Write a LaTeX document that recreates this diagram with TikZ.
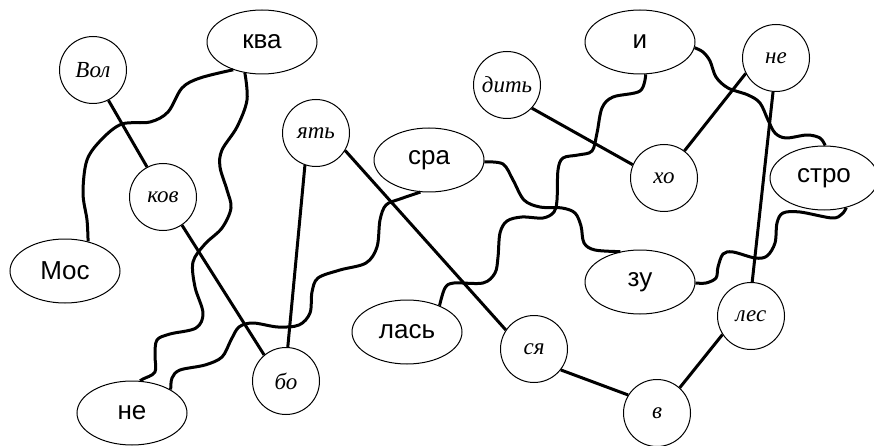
\documentclass[tikz,border=0pt]{standalone}
\usepackage{fontspec}
\setmainfont{Liberation Sans}
\newfontfamily\handfont{Liberation Serif}
\usetikzlibrary{shapes.geometric}

\begin{document}
\begin{tikzpicture}[
  x=1pt, y=-1pt,
  oval/.style={ellipse, draw, line width=1pt, inner sep=0pt,
    minimum width=110pt, minimum height=64pt,
    font=\fontsize{26}{26}\selectfont},
  ring/.style={circle, draw, line width=1pt, inner sep=0pt,
    minimum size=67pt, font=\handfont\itshape\fontsize{23}{23}\selectfont},
  link/.style={line width=3pt},
  wave/.style={line width=3pt, line join=round}
]
\useasboundingbox[fill=white] (0,0) rectangle (874,446);
\node[ring] (vol) at (93,70) {Вол};
\node[oval] (kva) at (262,42) {ква};
\node[ring] (kov) at (163,197) {ков};
\node[ring] (yat) at (316,133) {ять};
\node[oval] (mos) at (65,271) {Мос};
\node[oval] (ne) at (132,413) {не};
\node[ring] (bo) at (286,381) {бо};
\node[oval] (sra) at (429,160) {сра};
\node[ring] (dit) at (507,85) {дить};
\node[oval] (las) at (407,332) {лась};
\node[ring] (sya) at (534,349) {ся};
\node[oval] (i) at (640,42) {и};
\node[ring] (neh) at (776,58) {не};
\node[ring] (kho) at (664,178) {хо};
\node[oval, minimum width=108pt] (stro) at (824,178) {стро};
\node[oval] (zu) at (640,282) {зу};
\node[ring] (les) at (751,316) {лес};
\node[ring] (v) at (657,413) {в};

\draw[link] (vol.-63) -- (kov.118);
\draw[link] (kov.-56) -- (bo.130);
\draw[link] (yat.251) -- (bo.87);
\draw[link] (yat.-31) -- (sya.146);
\draw[link] (dit.-43) -- (kho.157);
\draw[link] (neh.207) -- (kho.53);
\draw[link] (neh.265) -- (les.88);
\draw[link] (sya.-38) -- (v.148);
\draw[link] (v.48) -- (les.213);

\draw[wave] plot[smooth, tension=0.55] coordinates {(kva.224) (200,78)
  (182,88) (168,112) (150,122) (122,124) (102,139) (87,160) (83,193)
  (87,220) (mos.52)};
\draw[wave] plot[smooth, tension=0.55] coordinates {(kva.241) (247,100)
  (237,127) (222,150) (220,167) (227,190) (231,208) (222,228) (205,244)
  (193,262) (195,287) (203,313) (196,328) (170,334) (157,340) (155,355)
  (155,372) (143,379) (ne.76)};
\draw[wave] plot[smooth, tension=0.55] coordinates {(sra.255) (400,199)
  (386,205) (380,220) (377,247) (366,263) (340,270) (318,278) (312,292)
  (310,313) (299,325) (278,327) (253,323) (239,327) (231,340) (222,357)
  (205,365) (180,370) (172,378) (ne.31)};
\draw[wave] plot[smooth, tension=0.55] coordinates {(sra.-2) (503,164)
  (513,180) (524,200) (540,207) (562,208) (575,213) (581,226) (584,243)
  (595,250) (zu.123)};
\draw[wave] plot[smooth, tension=0.55] coordinates {(las.39) (445,288)
  (454,283) (483,283) (495,273) (498,257) (500,233) (507,221) (522,217)
  (543,218) (554,212) (557,200) (558,170) (563,158) (578,155) (592,151)
  (597,133) (602,108) (613,97) (640,91) (i.-80)};
\draw[wave] plot[smooth, tension=0.55] coordinates {(i.-6) (703,52)
  (710,61) (716,77) (728,88) (748,95) (760,103) (768,120) (775,133)
  (786,138) (807,135) (820,138) (stro.88)};
\draw[wave] plot[smooth, tension=0.55] coordinates {(stro.-53) (842,214)
  (832,218) (800,212) (783,213) (777,223) (775,243) (767,256) (755,258)
  (733,252) (723,254) (718,267) (716,278) (706,283) (zu.-1)};
\end{tikzpicture}
\end{document}
